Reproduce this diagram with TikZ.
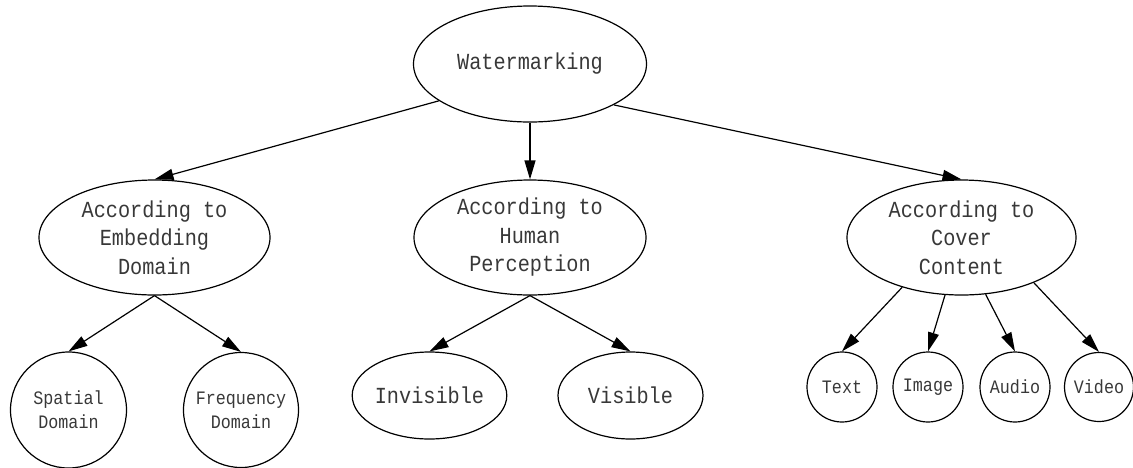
\documentclass[tikz,border=0pt]{standalone}
\usepackage{fontspec}
\usetikzlibrary{shapes.geometric,arrows.meta}
\newfontfamily\labelfont[FakeStretch=0.88]{Liberation Mono}
\definecolor{labelgray}{gray}{0.22}
\begin{document}
\begin{tikzpicture}[x=1pt,y=-1pt,
  bigtext/.style={font=\labelfont\fontsize{23}{28.5}\selectfont, align=center, text=labelgray},
  smalltext/.style={font=\labelfont\fontsize{19}{24}\selectfont, align=center, text=labelgray},
  oval/.style={draw, ellipse, line width=1.2pt, inner sep=0pt},
  ring/.style={draw, circle, line width=1.2pt, inner sep=0pt},
  edge/.style={draw, line width=1.2pt, -{Triangle[length=19pt,width=11pt]}}]
  \useasboundingbox (0,0) rectangle (1133,467);

  % root
  \node[oval, bigtext, minimum width=233pt, minimum height=116pt] (wm) at (530,64) {Watermarking};

  % classification criteria
  \node[oval, bigtext, minimum width=231pt, minimum height=115pt] (emb) at (154.5,237.5) {According to\\Embedding\\Domain};
  \node[oval, bigtext, minimum width=232pt, minimum height=115pt] (per) at (530,237.5) {According to\\Human\\Perception};
  \node[oval, bigtext, minimum width=229pt, minimum height=115pt] (cov) at (961.5,237.5) {According to\\Cover\\Content};

  % embedding domain
  \node[ring, smalltext, minimum size=116pt] (sp) at (68.5,410) {Spatial\\Domain};
  \node[ring, smalltext, minimum size=115pt] (fr) at (241,410) {Frequency\\Domain};

  % human perception
  \node[oval, bigtext, minimum width=145pt, minimum height=87pt] (inv) at (429.5,395.5) {Invisible};
  \node[oval, bigtext, minimum width=145pt, minimum height=87pt] (vis) at (630.5,395.5) {Visible};

  % cover content
  \node[ring, smalltext, minimum size=70pt] (txt) at (842,387) {Text};
  \node[ring, smalltext, minimum size=70pt] (img) at (928,387) {Image};
  \node[ring, smalltext, minimum size=70pt] (aud) at (1015,387) {Audio};
  \node[ring, smalltext, minimum size=69pt] (vid) at (1099,387) {Video};

  % connectors
  \path[edge] (wm.202.9) -- (emb.north);
  \path[edge] (wm.south) -- (per.north);
  \path[edge] (wm.334.3) -- (cov.north);

  \path[edge] (emb.south) -- (sp.north);
  \path[edge] (emb.south) -- (fr.north);

  \path[edge] (per.south) -- (inv.north);
  \path[edge] (per.south) -- (vis.north);

  \path[edge] (cov.220.2) -- (txt.north);
  \path[edge] (cov.254) -- (img.north);
  \path[edge] (cov.293.4) -- (aud.north);
  \path[edge] (cov.328) -- (vid.north);
\end{tikzpicture}
\end{document}
